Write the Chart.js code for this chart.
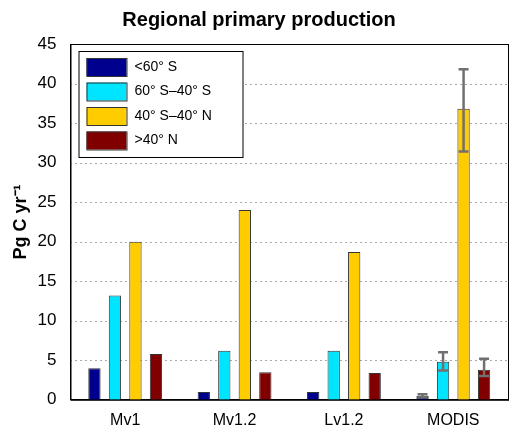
<!DOCTYPE html>
<html>
<head>
<script src="https://cdn.jsdelivr.net/npm/chart.js@4"></script>
<style>body{margin:0;background:#fff}#wrap{width:516px;height:435px}</style>
</head>
<body>
<div id="wrap"><canvas id="c"></canvas></div>
<script>
const categories = ['Mv1', 'Mv1.2', 'Lv1.2', 'MODIS'];
const seriesNames = ['<60\u00b0 S', '60\u00b0 S\u201340\u00b0 S', '40\u00b0 S\u201340\u00b0 N', '>40\u00b0 N'];
const south60 = [4.0, 1.0, 1.0, 0.5];
const south40 = [13.2, 6.2, 6.2, 4.8];
const tropics = [20.0, 24.0, 18.7, 36.8];
const north40 = [5.8, 3.5, 3.4, 3.8];
// MODIS error bar ranges [low, high] per series
const modisErr = [[0.3, 0.7], [3.7, 6.0], [31.4, 41.8], [3.0, 5.2]];
const colors = ['#00008f', '#00e5ff', '#ffcc00', '#800000'];

const errPlugin = {
  id: 'err',
  beforeDatasetsDraw(chart) {
    const ctx = chart.ctx, a = chart.chartArea, y = chart.scales.y;
    ctx.save();
    ctx.strokeStyle = '#555';
    ctx.lineWidth = 1;
    ctx.setLineDash([1, 4]);
    for (let v = 5; v < 45; v += 5) {
      const py = Math.round(y.getPixelForValue(v)) + 0.5;
      ctx.beginPath(); ctx.moveTo(a.left, py); ctx.lineTo(a.right, py); ctx.stroke();
    }
    ctx.restore();
  },
  afterDatasetsDraw(chart) {
    const ctx = chart.ctx, y = chart.scales.y;
    ctx.save();
    ctx.strokeStyle = '#707070';
    ctx.lineWidth = 2.5;
    chart.data.datasets.forEach((ds, i) => {
      const bar = chart.getDatasetMeta(i).data[3];
      const [lo, hi] = modisErr[i];
      const x = bar.x, y1 = y.getPixelForValue(lo), y2 = y.getPixelForValue(hi);
      ctx.beginPath();
      ctx.moveTo(x, y1); ctx.lineTo(x, y2);
      ctx.moveTo(x - 5, y1); ctx.lineTo(x + 5, y1);
      ctx.moveTo(x - 5, y2); ctx.lineTo(x + 5, y2);
      ctx.stroke();
    });
    ctx.restore();
  },
  afterDraw(chart) {
    const ctx = chart.ctx, a = chart.chartArea;
    ctx.save();
    ctx.strokeStyle = '#000';
    ctx.lineWidth = 1;
    ctx.strokeRect(a.left + 0.5, a.top + 0.5, a.right - a.left, a.bottom - a.top);
    // legend box inside the plot area
    const lx = a.left + 8, ly = a.top + 7;
    ctx.fillStyle = '#fff';
    ctx.fillRect(lx, ly, 164, 106);
    ctx.strokeRect(lx + 0.5, ly + 0.5, 164, 106);
    ctx.font = '14px "Liberation Sans"';
    ctx.textBaseline = 'middle';
    chart.data.datasets.forEach((ds, i) => {
      const cy = ly + 16 + i * 24.5;
      ctx.fillStyle = ds.backgroundColor;
      ctx.fillRect(lx + 8, cy - 9, 40, 18);
      ctx.strokeStyle = '#333';
      ctx.strokeRect(lx + 8.5, cy - 8.5, 40, 18);
      ctx.fillStyle = '#000';
      ctx.fillText(ds.label, lx + 56, cy);
    });
    ctx.restore();
  }
};

new Chart(document.getElementById('c'), {
  type: 'bar',
  data: {
    labels: categories,
    datasets: [south60, south40, tropics, north40].map((d, i) => ({
      label: seriesNames[i],
      data: d,
      backgroundColor: colors[i],
      borderColor: '#333',
      borderWidth: 1,
      barPercentage: 0.6,
      categoryPercentage: 0.75
    }))
  },
  options: {
    responsive: true,
    maintainAspectRatio: false,
    animation: false,
    layout: { padding: { left: 10, right: 8, top: 2, bottom: 2 } },
    plugins: {
      title: {
        display: true, text: 'Regional primary production', color: '#000',
        font: { family: 'Liberation Sans', size: 20, weight: 'bold' }, padding: { top: 6, bottom: 12 }
      },
      legend: { display: false },
      tooltip: { enabled: false }
    },
    scales: {
      x: {
        grid: { display: false },
        border: { color: '#000' },
        ticks: { color: '#000', font: { family: 'Liberation Sans', size: 16 } }
      },
      y: {
        min: 0, max: 45,
        grid: { display: false },
        border: { color: '#000' },
        ticks: { stepSize: 5, color: '#000', padding: 6, font: { family: 'Liberation Sans', size: 17 } },
        title: { display: true, text: 'Pg C yr\u207b\u00b9', color: '#000', padding: 0, font: { family: 'Liberation Sans', size: 18, weight: 'bold' } }
      }
    }
  },
  plugins: [errPlugin]
});
</script>
</body>
</html>
